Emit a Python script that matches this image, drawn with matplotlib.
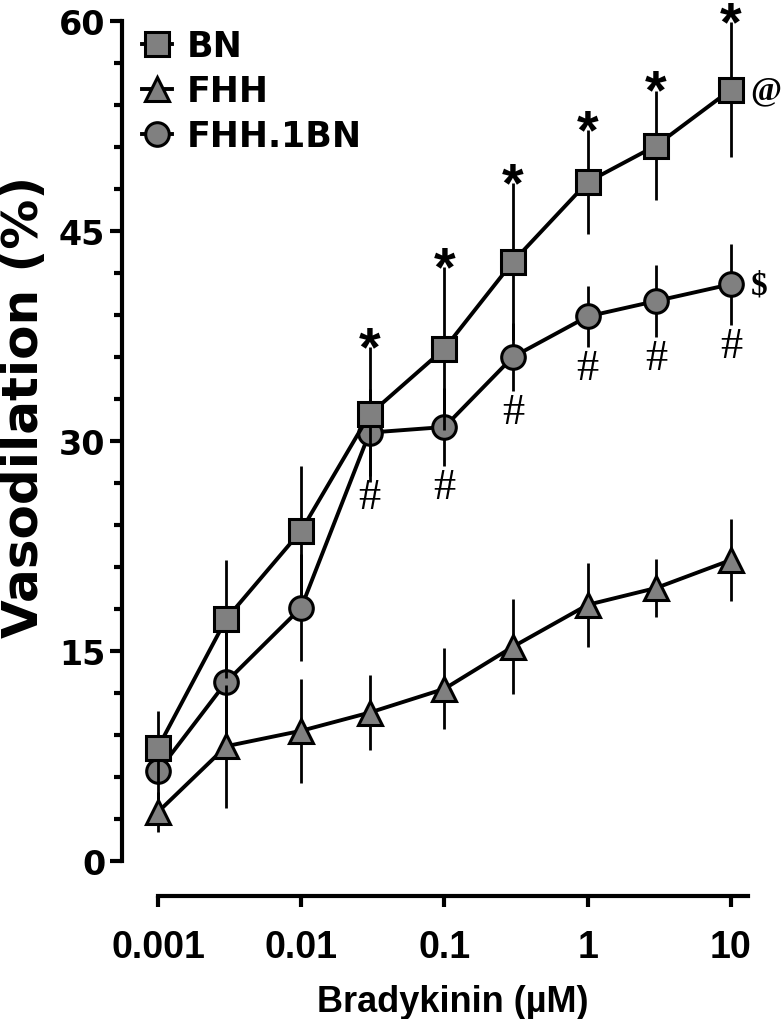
import matplotlib
matplotlib.use('Agg')
import matplotlib.pyplot as plt
from matplotlib.ticker import FixedLocator, MultipleLocator, NullFormatter

# bradykinin dose (uM)
dose = [0.001, 0.003, 0.01, 0.03, 0.1, 0.3, 1, 3, 10]

bn_mean = [8.1, 17.3, 23.6, 31.9, 36.6, 42.8, 48.5, 51.1, 55.1]
bn_sem = [2.6, 4.2, 4.6, 4.8, 5.8, 5.6, 3.7, 3.9, 4.8]

fhh_mean = [3.5, 8.2, 9.3, 10.6, 12.3, 15.3, 18.3, 19.5, 21.5]
fhh_sem = [1.4, 4.4, 3.7, 2.7, 2.9, 3.4, 3.0, 2.1, 2.9]

cons_mean = [6.4, 12.8, 18.1, 30.6, 31.0, 36.0, 38.9, 40.0, 41.2]
cons_sem = [2.0, 4.4, 3.8, 3.1, 2.8, 2.4, 2.2, 2.6, 2.9]

# significance marks (index into dose)
star_idx = [3, 4, 5, 6, 7, 8]
hash_idx = [3, 4, 5, 6, 7, 8]

xticks = [0.001, 0.01, 0.1, 1, 10]
xtick_labels = ['0.001', '0.01', '0.1', '1', '10']
yticks = [0, 15, 30, 45, 60]

W, H = 781, 1020
fig = plt.figure(figsize=(W / 100, H / 100), dpi=100)
ax = fig.add_axes([122 / W, (H - 862) / H, (748 - 122) / W, (862 - 22) / H])
ax.set_xscale('log')
ax.set_xlim(10 ** -3.2513, 13.15)
ax.set_ylim(0, 60)

grey = '#808080'
ms = 17
mew = 2.2

# draw order: FHH.1BN at the back, BN on top
series = [
    ('FHH.1BN', cons_mean, cons_sem, 'o', 1),
    ('FHH', fhh_mean, fhh_sem, '^', 3),
    ('BN', bn_mean, bn_sem, 's', 5),
]
handles = {}
for name, m, s, mk, z in series:
    ax.errorbar(dose, m, yerr=s, fmt='none', ecolor='black', elinewidth=2.0,
                capsize=0, zorder=z, clip_on=False)
    ln, = ax.plot(dose, m, '-', color='black', lw=2.8, marker=mk, ms=ms,
                  mfc=grey, mec='black', mew=mew, zorder=z + 1, clip_on=False,
                  label=name)
    handles[name] = ln

# * above BN
for i in star_idx:
    ax.annotate('*', xy=(dose[i], bn_mean[i] + bn_sem[i]), xytext=(0, -12),
                textcoords='offset points', ha='center', va='baseline',
                fontsize=40, fontweight='bold', family='Liberation Sans',
                annotation_clip=False)
# # below FHH.1BN
for i in hash_idx:
    ax.annotate('#', xy=(dose[i], cons_mean[i] - cons_sem[i]), xytext=(0, -23),
                textcoords='offset points', ha='center', va='baseline',
                fontsize=32, family='Liberation Serif', annotation_clip=False)
ax.annotate('@', xy=(dose[-1], bn_mean[-1]), xytext=(14, -6),
            textcoords='offset points', ha='left', va='baseline',
            fontsize=24, fontweight='bold', family='Liberation Serif',
            annotation_clip=False)
ax.annotate('$', xy=(dose[-1], cons_mean[-1]), xytext=(14, -7),
            textcoords='offset points', ha='left', va='baseline',
            fontsize=24, fontweight='bold', family='Liberation Serif',
            annotation_clip=False)

# axes styling
for sp in ['top', 'right']:
    ax.spines[sp].set_visible(False)
ax.spines['left'].set_linewidth(3)
ax.spines['bottom'].set_linewidth(3)
ax.spines['left'].set_bounds(0, 60)
ax.spines['bottom'].set_bounds(0.001, 13.15)
ax.spines['bottom'].set_position(('outward', 25))

ax.xaxis.set_major_locator(FixedLocator(xticks))
ax.xaxis.set_minor_locator(FixedLocator([]))
ax.set_xticklabels(xtick_labels)
ax.xaxis.set_minor_formatter(NullFormatter())
ax.yaxis.set_major_locator(FixedLocator(yticks))
ax.yaxis.set_minor_locator(MultipleLocator(3))
ax.tick_params(axis='x', which='major', direction='out', length=8, width=3,
               pad=16, labelsize=27)
ax.tick_params(axis='y', which='major', direction='out', length=9, width=3,
               pad=3, labelsize=24)
ax.tick_params(axis='y', which='minor', direction='out', length=6, width=3)
for lab in ax.get_xticklabels():
    lab.set_fontfamily('Liberation Sans')
    lab.set_fontweight('bold')
for lab in ax.get_yticklabels():
    lab.set_fontfamily('DejaVu Sans')
    lab.set_fontweight('bold')

fig.text(24 / W, 1 - 407 / H, 'Vasodilation (%)', rotation=90, ha='center',
         va='center', fontsize=36, fontweight='bold', family='DejaVu Sans')
fig.text(453 / W, 1 - 1012 / H, 'Bradykinin (\u00b5M)', ha='center',
         va='baseline', fontsize=26, fontweight='bold', family='Liberation Sans')

leg = ax.legend([handles['BN'], handles['FHH'], handles['FHH.1BN']],
                ['BN', 'FHH', 'FHH.1BN'], loc='upper left',
                bbox_to_anchor=(142 / W, 1 - 30 / H),
                bbox_transform=fig.transFigure, frameon=False,
                borderpad=0, borderaxespad=0, handlelength=0.85,
                handletextpad=0.45, labelspacing=0.32,
                prop={'family': 'DejaVu Sans', 'weight': 'bold', 'size': 25})

fig.savefig('out.png', dpi=100)
